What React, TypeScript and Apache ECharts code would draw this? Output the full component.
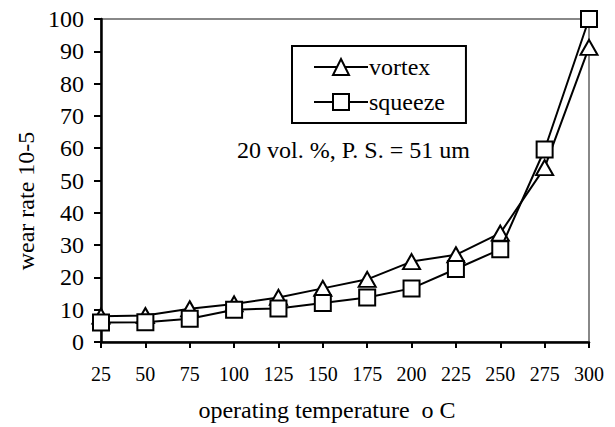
import React, { useEffect, useRef } from "react";
import * as echarts from "echarts";

// Operating temperatures (°C) along the horizontal axis
const temperatures = ["25", "50", "75", "100", "125", "150", "175", "200", "225", "250", "275", "300"];

// Wear rate (×10^-5) for each casting route
const vortexWear = [8.0, 8.2, 10.3, 11.8, 13.8, 16.6, 19.4, 24.9, 27.0, 33.7, 54.0, 91.2];
const squeezeWear = [6.0, 6.1, 7.2, 10.0, 10.4, 12.1, 13.8, 16.6, 22.6, 28.7, 59.6, 100.0];

const FONT = "Times New Roman, Liberation Serif, DejaVu Serif, serif";

export default function App() {
  const ref = useRef<HTMLDivElement>(null);

  useEffect(() => {
    if (!ref.current) return;
    const chart = echarts.init(ref.current, null, { renderer: "svg" });

    const seriesStyle = {
      type: "line" as const,
      lineStyle: { color: "#000", width: 2 },
      itemStyle: { color: "#fff", borderColor: "#000", borderWidth: 2 },
      emphasis: { disabled: true },
    };

    chart.setOption({
      animation: false,
      backgroundColor: "#fff",
      textStyle: { fontFamily: FONT, color: "#000" },
      grid: {
        left: 101,
        right: 26,
        top: 19,
        bottom: 85,
        show: true,
        borderColor: "#888",
        borderWidth: 2,
        backgroundColor: "transparent",
      },
      legend: {
        orient: "vertical",
        left: 292,
        top: 46,
        padding: [9, 21, 9, 21],
        itemGap: 11,
        itemWidth: 54,
        itemHeight: 20,
        borderColor: "#000",
        borderWidth: 2,
        backgroundColor: "#fff",
        textStyle: { fontFamily: FONT, fontSize: 24, color: "#000", padding: [0, 0, 0, -4] },
        data: ["vortex", "squeeze"],
      },
      xAxis: {
        type: "category",
        data: temperatures,
        boundaryGap: false,
        axisLine: { lineStyle: { color: "#000", width: 2.5 } },
        axisTick: { show: true, length: 6, lineStyle: { color: "#000", width: 2 } },
        axisLabel: { fontFamily: FONT, fontSize: 20, color: "#000", margin: 22 },
        splitLine: { show: false },
      },
      yAxis: {
        type: "value",
        min: 0,
        max: 100,
        interval: 10,
        axisLine: { show: true, lineStyle: { color: "#000", width: 2.5 } },
        axisTick: { show: true, length: 7, lineStyle: { color: "#000", width: 2 } },
        axisLabel: { fontFamily: FONT, fontSize: 24, color: "#000", margin: 17 },
        splitLine: { show: false },
      },
      series: [
        { ...seriesStyle, name: "vortex", symbol: "triangle", symbolSize: [17, 15], data: vortexWear, z: 3 },
        { ...seriesStyle, name: "squeeze", symbol: "rect", symbolSize: 16, data: squeezeWear, z: 4 },
      ],
      graphic: [
        {
          type: "text",
          x: 237,
          y: 150,
          style: {
            text: "20 vol. %, P. S. = 51 um",
            fontFamily: FONT,
            fontSize: 24,
            fill: "#000",
            textVerticalAlign: "middle",
          },
        },
        {
          type: "text",
          x: 26,
          y: 201,
          rotation: Math.PI / 2,
          style: {
            text: "wear rate 10-5",
            fontFamily: FONT,
            fontSize: 24,
            fill: "#000",
            textAlign: "center",
            textVerticalAlign: "middle",
          },
        },
        {
          type: "text",
          x: 327,
          y: 410,
          style: {
            text: "operating temperature  o C",
            fontFamily: FONT,
            fontSize: 24,
            fill: "#000",
            textAlign: "center",
            textVerticalAlign: "middle",
          },
        },
      ],
    });

    return () => chart.dispose();
  }, []);

  return (
    <div
      ref={ref}
      style={{ position: "absolute", left: 0, top: 0, width: 615, height: 427 }}
    />
  );
}
